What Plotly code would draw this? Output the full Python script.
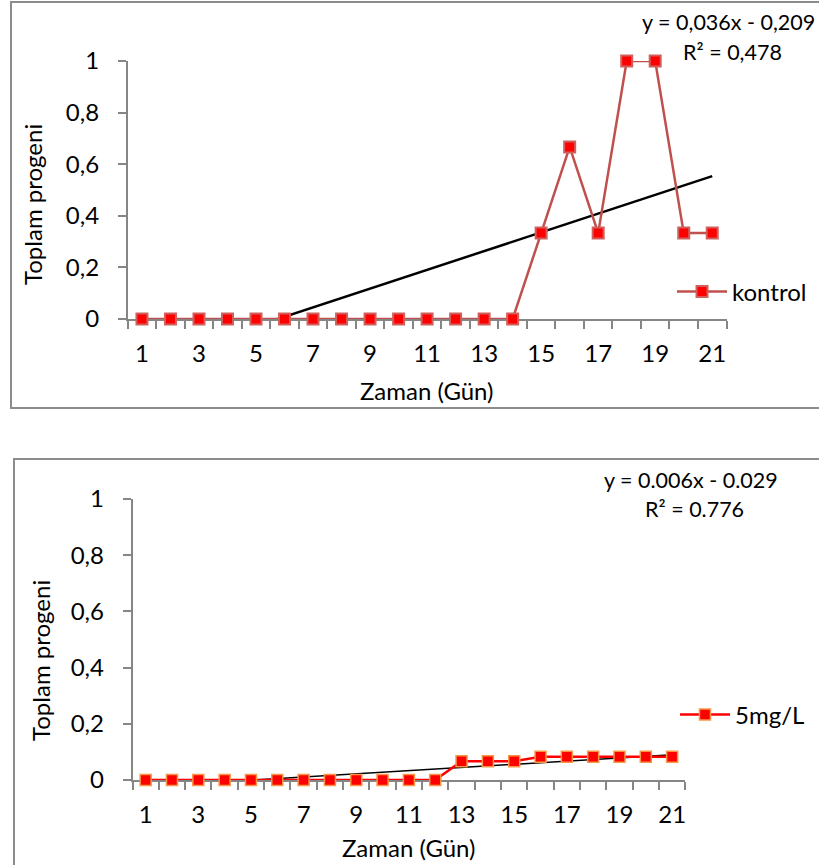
import numpy as np
import plotly.graph_objects as go

W, H = 819, 865

# ---- data ----
days = list(range(1, 22))
kontrol = [0, 0, 0, 0, 0, 0, 0, 0, 0, 0, 0, 0, 0, 0,
           0.333, 0.667, 0.333, 1, 1, 0.333, 0.333]
mg5 = [0, 0, 0, 0, 0, 0, 0, 0, 0, 0, 0, 0,
       0.067, 0.067, 0.067, 0.083, 0.083, 0.083, 0.083, 0.083, 0.083]
x_tick_vals = [1, 3, 5, 7, 9, 11, 13, 15, 17, 19, 21]
x_tick_text = ["1", "3", "5", "7", "9", "11", "13", "15", "17", "19", "21"]
y_tick_vals = [0, 0.2, 0.4, 0.6, 0.8, 1]
y_tick_text = ["0", "0,2", "0,4", "0,6", "0,8", "1"]
eq_top = ["y = 0,036x - 0,209", "R² = 0,478"]
eq_bot = ["y = 0.006x - 0.029", "R² = 0.776"]
name_top = "kontrol"
name_bot = "5mg/L"
y_title = "Toplam progeni"
x_title = "Zaman (Gün)"

FONT = "Lato"
FS = 24
FE = 21.5
AX = "#868686"


def px(x):
    return x / W


def py(y):
    return 1 - y / H


def trend(xs, ys):
    k, b = np.polyfit(xs, ys, 1)
    xs = np.array(xs, dtype=float)
    return xs, k * xs + b


fig = go.Figure()

# top chart
tx, ty = trend(days, kontrol)
fig.add_trace(go.Scatter(x=tx, y=ty, mode="lines", line=dict(color="black", width=2.5),
                         showlegend=False, xaxis="x", yaxis="y", hoverinfo="skip"))
fig.add_trace(go.Scatter(x=days, y=kontrol, mode="lines+markers", name=name_top,
                         line=dict(color="#C0504D", width=2.5),
                         marker=dict(symbol="square", size=11, color="#FF0000",
                                     line=dict(color="#D0605D", width=2)),
                         cliponaxis=False, xaxis="x", yaxis="y", legend="legend"))

# bottom chart
bx, by = trend(days, mg5)
fig.add_trace(go.Scatter(x=bx, y=by, mode="lines", line=dict(color="black", width=1.5),
                         showlegend=False, xaxis="x2", yaxis="y2", hoverinfo="skip"))
fig.add_trace(go.Scatter(x=days, y=mg5, mode="lines+markers", name=name_bot,
                         line=dict(color="#FF0000", width=2.5),
                         marker=dict(symbol="square", size=11, color="#FF0000",
                                     line=dict(color="#F79646", width=1.5)),
                         cliponaxis=False, xaxis="x2", yaxis="y2", legend="legend2"))

xcommon = dict(range=[0.5, 21.5], tickmode="array", tickvals=x_tick_vals, ticktext=x_tick_text,
               ticks="", showline=True, linecolor=AX, linewidth=1.5, showgrid=False,
               zeroline=False, tickfont=dict(family=FONT, size=FS, color="black"),
               ticklabelstandoff=12, layer="below traces", fixedrange=True, automargin=False,
               minor=dict(tickmode="array", tickvals=[i + 0.5 for i in range(0, 22)],
                          ticks="outside", ticklen=8, tickwidth=1.5, tickcolor=AX, showgrid=False))
ycommon = dict(range=[0, 1], tickmode="array", tickvals=y_tick_vals, ticktext=y_tick_text,
               ticks="outside", ticklen=8, tickwidth=1.5, tickcolor=AX,
               showline=True, linecolor=AX, linewidth=1.5, showgrid=False, zeroline=False,
               tickfont=dict(family=FONT, size=FS, color="black"), ticklabelstandoff=14,
               layer="below traces", fixedrange=True, automargin=False)

fig.update_layout(
    width=W, height=H, margin=dict(l=0, r=0, t=0, b=0, autoexpand=False),
    paper_bgcolor="white", plot_bgcolor="rgba(0,0,0,0)",
    font=dict(family=FONT, size=FS, color="black"),
    xaxis=dict(domain=[px(127.7), px(726.5)], anchor="y", **xcommon),
    yaxis=dict(domain=[py(319), py(61)], anchor="x", **ycommon),
    xaxis2=dict(domain=[px(132.5), px(685.3)], anchor="y2", **xcommon),
    yaxis2=dict(domain=[py(780), py(499)], anchor="x2", **ycommon),
    legend=dict(x=px(672), y=py(292), xanchor="left", yanchor="middle",
                bgcolor="rgba(0,0,0,0)", font=dict(family=FONT, size=FS), itemwidth=50),
    legend2=dict(x=px(675), y=py(715), xanchor="left", yanchor="middle",
                 bgcolor="rgba(0,0,0,0)", font=dict(family=FONT, size=FS), itemwidth=50),
    shapes=[
        dict(type="rect", xref="paper", yref="paper", x0=px(11), x1=px(840), y0=py(408), y1=py(2),
             line=dict(color="#8c8c8c", width=2), layer="below"),
        dict(type="rect", xref="paper", yref="paper", x0=px(14), x1=px(840), y0=py(890), y1=py(459),
             line=dict(color="#8c8c8c", width=2), layer="below"),
    ],
    annotations=[
        dict(text=eq_top[0], x=px(817), y=py(22), xref="paper", yref="paper", xanchor="right",
             yanchor="middle", showarrow=False, font=dict(family=FONT, size=FE)),
        dict(text=eq_top[1], x=px(732), y=py(52), xref="paper", yref="paper", xanchor="center",
             yanchor="middle", showarrow=False, font=dict(family=FONT, size=FE)),
        dict(text=eq_bot[0], x=px(780), y=py(480), xref="paper", yref="paper", xanchor="right",
             yanchor="middle", showarrow=False, font=dict(family=FONT, size=FE)),
        dict(text=eq_bot[1], x=px(694), y=py(509), xref="paper", yref="paper", xanchor="center",
             yanchor="middle", showarrow=False, font=dict(family=FONT, size=FE)),
        dict(text=y_title, x=px(33), y=py(205), xref="paper", yref="paper", xanchor="center",
             yanchor="middle", textangle=-90, showarrow=False, font=dict(family=FONT, size=FS)),
        dict(text=y_title, x=px(40), y=py(661), xref="paper", yref="paper", xanchor="center",
             yanchor="middle", textangle=-90, showarrow=False, font=dict(family=FONT, size=FS)),
        dict(text=x_title, x=px(427), y=py(390), xref="paper", yref="paper", xanchor="center",
             yanchor="middle", showarrow=False, font=dict(family=FONT, size=FS)),
        dict(text=x_title, x=px(409), y=py(847), xref="paper", yref="paper", xanchor="center",
             yanchor="middle", showarrow=False, font=dict(family=FONT, size=FS)),
    ],
)

fig.write_html("out.html")
